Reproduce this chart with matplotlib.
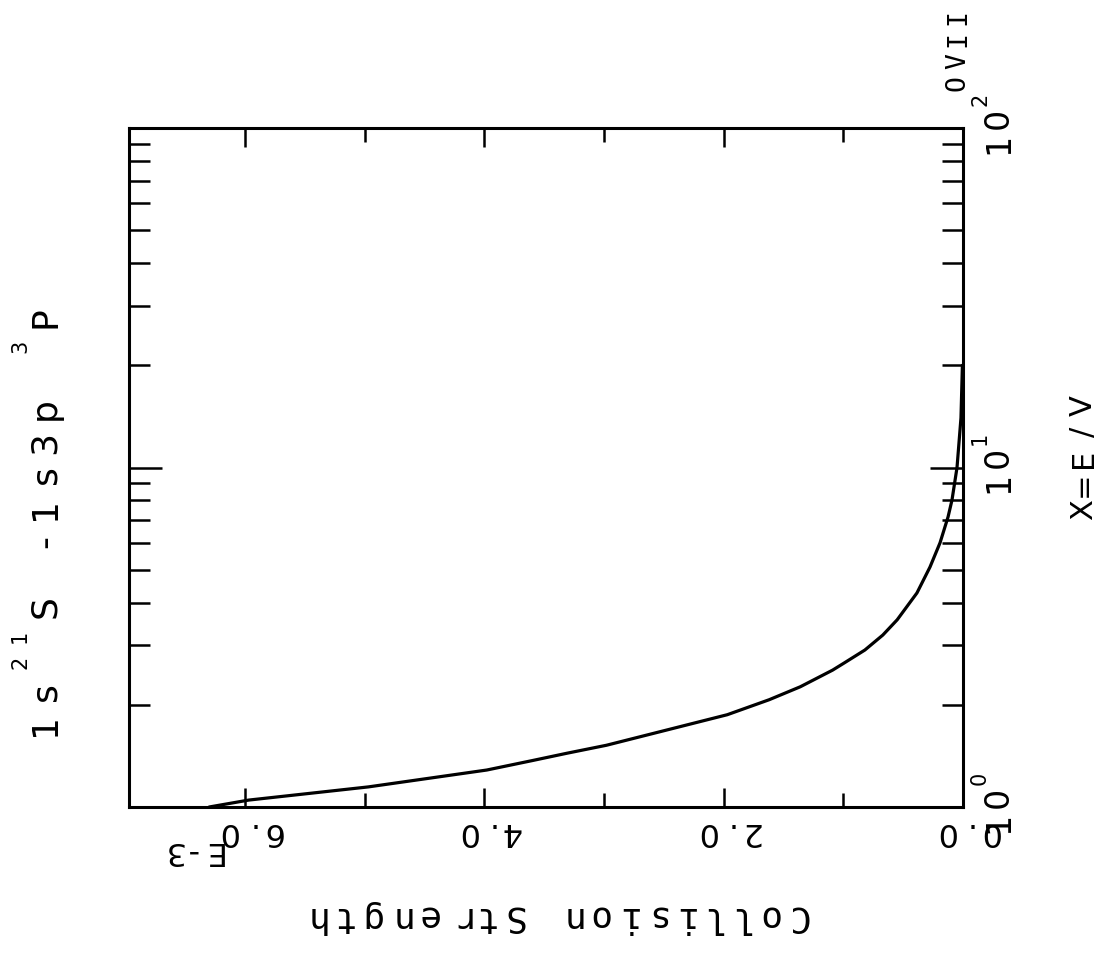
import numpy as np
import matplotlib
matplotlib.use("Agg")
import matplotlib.pyplot as plt
from matplotlib.ticker import FixedLocator, LogLocator, NullFormatter

W, H, DPI = 1120, 960, 100

# Collision strength (units of 1e-3) against threshold energy ratio X = E/V
energy_ratio = [1.0, 1.048, 1.146, 1.285, 1.37, 1.44, 1.52, 1.65, 1.87,
                2.07, 2.26, 2.53, 2.66, 2.90, 3.21, 3.56, 4.27, 5.09,
                6.0, 7.15, 8.02, 10.0, 14.0, 20.0]
collision_strength = [6.30, 5.97, 4.97, 3.98, 3.60, 3.31, 2.98, 2.58, 1.97,
                      1.62, 1.36, 1.09, 0.99, 0.82, 0.67, 0.55, 0.385, 0.276,
                      0.192, 0.125, 0.092, 0.05, 0.017, 0.005]

strength_major = [0.0, 2.0, 4.0, 6.0]
strength_minor = [1.0, 3.0, 5.0]
strength_labels = ["0.0", "2.0", "4.0", "6.0"]
energy_decades = [1, 10, 100]
energy_labels = ["10^0", "10^1", "10^2"]

title_text = "1s^2^1S -1s3p ^3P"
xlabel_text = "X=E/V"
ylabel_text = "Collision Strength"
scale_text = "E-3"
ion_text = "OVII"

fig = plt.figure(figsize=(W / DPI, H / DPI), dpi=DPI)
fig.patch.set_facecolor("white")

# axes box (page is drawn turned a quarter turn)
left, right, top, bottom = 129, 963, 128, 807
ax = fig.add_axes([left / W, 1 - bottom / H, (right - left) / W, (bottom - top) / H])

ax.plot(collision_strength, energy_ratio, color="black", lw=2.3,
        solid_capstyle="round", solid_joinstyle="round")

ax.set_yscale("log")
ax.set_xlim(6.97, 0.0)
ax.set_ylim(1, 100)

ax.xaxis.set_major_locator(FixedLocator(strength_major))
ax.xaxis.set_minor_locator(FixedLocator(strength_minor))
ax.yaxis.set_major_locator(LogLocator(base=10))
ax.yaxis.set_minor_locator(LogLocator(base=10, subs=np.arange(2, 10)))
ax.xaxis.set_minor_formatter(NullFormatter())
ax.yaxis.set_minor_formatter(NullFormatter())

ax.tick_params(axis="x", which="major", direction="in", length=13.7, width=1.8,
               top=True, bottom=True, labelbottom=False, labeltop=False)
ax.tick_params(axis="x", which="minor", direction="in", length=10, width=1.8,
               top=True, bottom=True)
ax.tick_params(axis="y", which="major", direction="in", length=24, width=1.8,
               left=True, right=True, labelleft=False, labelright=False)
ax.tick_params(axis="y", which="minor", direction="in", length=15, width=1.8,
               left=True, right=True)
for sp in ax.spines.values():
    sp.set_linewidth(2.2)


def to_fig(x, y):
    return x / W, 1 - y / H


def spaced_text(x, y, angle, text, size, pitch, sup_size=None, sup_pitch=None,
                sup_rise=0.0, family="DejaVu Sans", align="center"):
    """Write text one glyph per fixed-width cell, in pixel coordinates
    (origin top-left). '^' marks the next glyph as a superscript."""
    cells = []
    i = 0
    while i < len(text):
        if text[i] == "^":
            cells.append((text[i + 1], True))
            i += 2
        else:
            cells.append((text[i], False))
            i += 1
    widths = [sup_pitch if s else pitch for _, s in cells]
    total = sum(widths)
    a = np.deg2rad(angle)
    along = np.array([np.cos(a), -np.sin(a)])
    up = np.array([-np.sin(a), -np.cos(a)])
    start = np.array([x, y], dtype=float)
    if align == "center":
        start = start - along * total / 2
    pos = 0.0
    for (ch, sup), w in zip(cells, widths):
        c = start + along * (pos + w / 2)
        if sup:
            c = c + up * sup_rise
        if ch != " ":
            fx, fy = to_fig(*c)
            fig.text(fx, fy, ch, rotation=angle, rotation_mode="anchor",
                     ha="center", va="baseline",
                     fontsize=sup_size if sup else size, family=family,
                     color="black")
        pos += w


fig.canvas.draw()


def data_to_px(xv, yv):
    dx, dy = ax.transData.transform((xv, yv))
    return dx, H - dy


# strength tick labels (upside down along the lower edge)
for v, lab in zip(strength_major, strength_labels):
    px, _ = data_to_px(v, 1)
    spaced_text(px + 4, 823, 180, lab, 23, 22)
spaced_text(192, 842, 180, scale_text, 23, 20)

# energy decade labels along the right edge
for v, lab in zip(energy_decades, energy_labels):
    _, py = data_to_px(0.0, v)
    spaced_text(1008, py + 27.5, 90, lab, 24, 25, sup_size=15, sup_pitch=13,
                sup_rise=22, align="start")

# axis titles
spaced_text(1092, 458, 90, xlabel_text, 22, 26)
spaced_text(555, 907, 180, ylabel_text, 26, 28.4, family="DejaVu Sans Mono")
spaced_text(55, 741.5, 90, title_text, 26, 33, sup_size=15, sup_pitch=26,
            sup_rise=29, align="start")
spaced_text(965, 94, 90, ion_text, 19, 22, family="DejaVu Sans Mono",
            align="start")

fig.savefig("out.png", dpi=DPI, facecolor="white")
